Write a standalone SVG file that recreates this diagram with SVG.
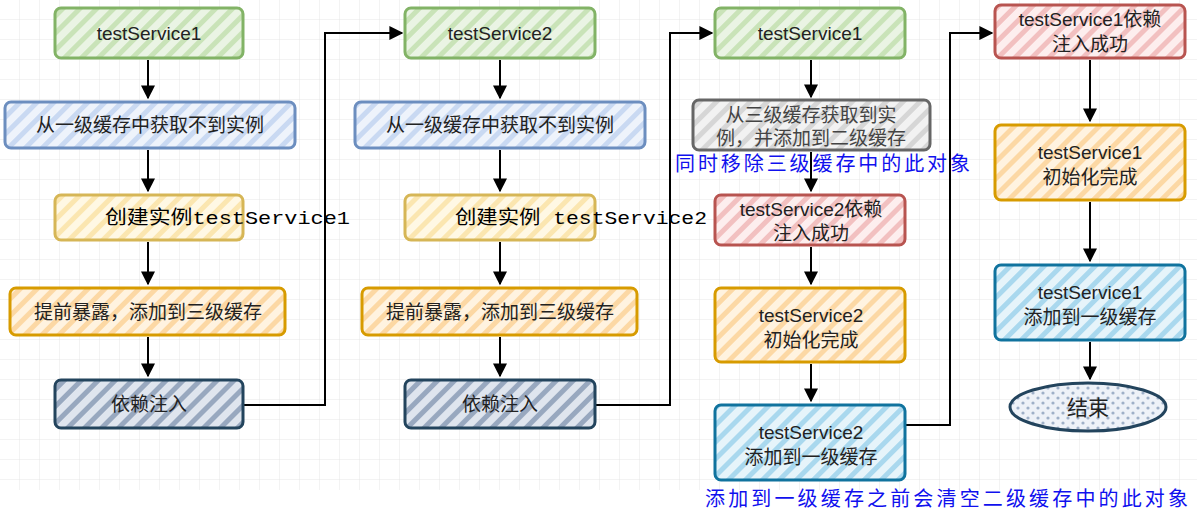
<svg xmlns="http://www.w3.org/2000/svg" width="1197" height="516" viewBox="0 0 1197 516">
<defs>
<pattern id="grid" width="20" height="20" patternUnits="userSpaceOnUse"><path d="M20 0V20H0" fill="none" stroke="#e6e6e6" stroke-width="1"/></pattern>
<pattern id="hg" width="12" height="12" patternUnits="userSpaceOnUse" patternTransform="rotate(45)"><rect width="12" height="12" fill="#eaf4e4"/><rect width="5" height="12" fill="#c9e3b8"/></pattern>
<pattern id="hb" width="12" height="12" patternUnits="userSpaceOnUse" patternTransform="rotate(45)"><rect width="12" height="12" fill="#eef3fb"/><rect width="5" height="12" fill="#c9d9f2"/></pattern>
<pattern id="hy" width="12" height="12" patternUnits="userSpaceOnUse" patternTransform="rotate(45)"><rect width="12" height="12" fill="#fff8e4"/><rect width="5" height="12" fill="#fbe6b0"/></pattern>
<pattern id="ho" width="12" height="12" patternUnits="userSpaceOnUse" patternTransform="rotate(45)"><rect width="12" height="12" fill="#fff3e0"/><rect width="5" height="12" fill="#fcd8a4"/></pattern>
<pattern id="hn" width="12" height="12" patternUnits="userSpaceOnUse" patternTransform="rotate(45)"><rect width="12" height="12" fill="#dfe5ee"/><rect width="5" height="12" fill="#98a8bf"/></pattern>
<pattern id="hk" width="12" height="12" patternUnits="userSpaceOnUse" patternTransform="rotate(45)"><rect width="12" height="12" fill="#f2f2f2"/><rect width="5" height="12" fill="#d6d6d6"/></pattern>
<pattern id="hr" width="12" height="12" patternUnits="userSpaceOnUse" patternTransform="rotate(45)"><rect width="12" height="12" fill="#fdeeee"/><rect width="5" height="12" fill="#f2c0c0"/></pattern>
<pattern id="hc" width="12" height="12" patternUnits="userSpaceOnUse" patternTransform="rotate(45)"><rect width="12" height="12" fill="#e6f4fa"/><rect width="5" height="12" fill="#a9d8ee"/></pattern>
<pattern id="he" width="10" height="10" patternUnits="userSpaceOnUse"><rect width="10" height="10" fill="#eef2f8"/><circle cx="3" cy="3" r="1.6" fill="#9fb0c8"/><circle cx="8" cy="8" r="1.6" fill="#9fb0c8"/></pattern>
<marker id="ar" viewBox="0 0 10 10" refX="9" refY="5" markerWidth="7" markerHeight="7" orient="auto"><path d="M0 0L10 5L0 10Z" fill="#000"/></marker>
</defs>
<style>
.n{stroke-width:3}
.t{font-family:"Liberation Sans","Noto Sans CJK SC",sans-serif;font-size:19px;fill:#222;text-anchor:middle}
.m{font-family:"Liberation Mono","Noto Sans CJK SC",monospace;font-size:19px;fill:#000}
.b{font-family:"Liberation Serif","Noto Sans CJK SC",serif;font-size:20px;fill:#1010ee}
.c{fill:none;stroke:#000;stroke-width:2}
</style>
<rect width="1197" height="516" fill="#fff"/>
<rect width="1197" height="490" fill="url(#grid)"/>
<g id="connectors">
<path class="c" d="M148 60V98" marker-end="url(#ar)"/>
<path class="c" d="M148 150V191" marker-end="url(#ar)"/>
<path class="c" d="M148 242V284" marker-end="url(#ar)"/>
<path class="c" d="M148 337V376" marker-end="url(#ar)"/>
<path class="c" d="M243 405H325V33H402" marker-end="url(#ar)"/>
<path class="c" d="M500 60V98" marker-end="url(#ar)"/>
<path class="c" d="M500 150V191" marker-end="url(#ar)"/>
<path class="c" d="M500 242V284" marker-end="url(#ar)"/>
<path class="c" d="M500 337V376" marker-end="url(#ar)"/>
<path class="c" d="M595 405H670V33H712" marker-end="url(#ar)"/>
<path class="c" d="M811 60V97" marker-end="url(#ar)"/>
<path class="c" d="M811 152V191" marker-end="url(#ar)"/>
<path class="c" d="M811 247V284" marker-end="url(#ar)"/>
<path class="c" d="M811 364V401" marker-end="url(#ar)"/>
<path class="c" d="M905 425H950V33H992" marker-end="url(#ar)"/>
<path class="c" d="M1090 60V121" marker-end="url(#ar)"/>
<path class="c" d="M1090 202V261" marker-end="url(#ar)"/>
<path class="c" d="M1090 342V379" marker-end="url(#ar)"/>
</g>
<g id="n1"><rect class="n" x="55" y="8" width="188" height="50" rx="6" fill="url(#hg)" stroke="#82b366"/><text class="t" x="149" y="40">testService1</text></g>
<g id="n2"><rect class="n" x="5" y="102" width="290" height="46" rx="6" fill="url(#hb)" stroke="#6c8ebf"/><text class="t" x="150" y="132">从一级缓存中获取不到实例</text></g>
<g id="n3"><rect class="n" x="55" y="195" width="188" height="45" rx="6" fill="url(#hy)" stroke="#d6b656"/><text class="m" x="105" y="224" textLength="245" lengthAdjust="spacingAndGlyphs">创建实例testService1</text></g>
<g id="n4"><rect class="n" x="10" y="288" width="275" height="47" rx="6" fill="url(#ho)" stroke="#d79b00"/><text class="t" x="148" y="319">提前暴露，添加到三级缓存</text></g>
<g id="n5"><rect class="n" x="55" y="380" width="188" height="48" rx="6" fill="url(#hn)" stroke="#23445d"/><text class="t" x="149" y="411">依赖注入</text></g>
<g id="n6"><rect class="n" x="405" y="8" width="190" height="50" rx="6" fill="url(#hg)" stroke="#82b366"/><text class="t" x="500" y="40">testService2</text></g>
<g id="n7"><rect class="n" x="355" y="102" width="290" height="46" rx="6" fill="url(#hb)" stroke="#6c8ebf"/><text class="t" x="500" y="132">从一级缓存中获取不到实例</text></g>
<g id="n8"><rect class="n" x="405" y="195" width="190" height="45" rx="6" fill="url(#hy)" stroke="#d6b656"/><text class="m" x="455" y="224" textLength="252" lengthAdjust="spacingAndGlyphs">创建实例 testService2</text></g>
<g id="n9"><rect class="n" x="362" y="288" width="275" height="47" rx="6" fill="url(#ho)" stroke="#d79b00"/><text class="t" x="500" y="319">提前暴露，添加到三级缓存</text></g>
<g id="n10"><rect class="n" x="405" y="380" width="190" height="48" rx="6" fill="url(#hn)" stroke="#23445d"/><text class="t" x="500" y="411">依赖注入</text></g>
<g id="n11"><rect class="n" x="715" y="8" width="190" height="50" rx="6" fill="url(#hg)" stroke="#82b366"/><text class="t" x="810" y="40">testService1</text></g>
<g id="n12"><rect class="n" x="693" y="100" width="237" height="50" rx="6" fill="url(#hk)" stroke="#666"/><text class="t" x="811" y="122" style="fill:#444">从三级缓存获取到实</text><text class="t" x="811" y="145" style="fill:#444">例，并添加到二级缓存</text></g>
<text class="b" x="675" y="171" textLength="295">同时移除三级缓存中的此对象</text>
<g id="n13"><rect class="n" x="715" y="195" width="190" height="50" rx="6" fill="url(#hr)" stroke="#b85450"/><text class="t" x="811" y="216">testService2依赖</text><text class="t" x="811" y="240">注入成功</text></g>
<g id="n14"><rect class="n" x="715" y="288" width="190" height="74" rx="6" fill="url(#ho)" stroke="#d79b00"/><text class="t" x="811" y="322">testService2</text><text class="t" x="811" y="347">初始化完成</text></g>
<g id="n15"><rect class="n" x="715" y="405" width="190" height="75" rx="6" fill="url(#hc)" stroke="#10739e"/><text class="t" x="811" y="439">testService2</text><text class="t" x="811" y="464">添加到一级缓存</text></g>
<g id="n16"><rect class="n" x="995" y="5" width="190" height="53" rx="6" fill="url(#hr)" stroke="#b85450"/><text class="t" x="1090" y="26">testService1依赖</text><text class="t" x="1090" y="51">注入成功</text></g>
<g id="n17"><rect class="n" x="995" y="125" width="190" height="75" rx="6" fill="url(#ho)" stroke="#d79b00"/><text class="t" x="1090" y="159">testService1</text><text class="t" x="1090" y="184">初始化完成</text></g>
<g id="n18"><rect class="n" x="995" y="265" width="190" height="75" rx="6" fill="url(#hc)" stroke="#10739e"/><text class="t" x="1090" y="299">testService1</text><text class="t" x="1090" y="324">添加到一级缓存</text></g>
<g id="n19"><ellipse class="n" cx="1088" cy="407" rx="78" ry="24" fill="url(#he)" stroke="#23445d"/><text class="t" x="1088" y="415" style="font-size:21px">结束</text></g>
<text class="b" x="705" y="506" textLength="483">添加到一级缓存之前会清空二级缓存中的此对象</text>
</svg>
